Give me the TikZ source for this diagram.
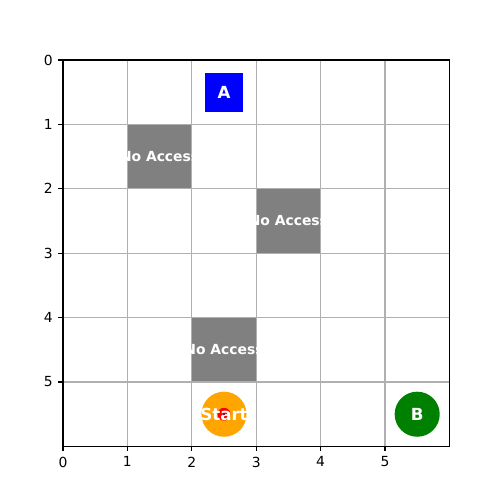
\documentclass[tikz,border=0pt]{standalone}
\usepackage{fontspec}
\setmainfont{DejaVu Sans}
\usetikzlibrary{positioning}
\definecolor{rejilla}{HTML}{B0B0B0}
\definecolor{muro}{HTML}{808080}
\definecolor{naranja}{HTML}{FFA500}
\definecolor{verde}{HTML}{008000}
\definecolor{azulm}{HTML}{0000FF}
\definecolor{rojo}{HTML}{FF0000}
\tikzset{
 bloqueo/.style={fill=muro,draw=none},
 rotulo/.style={text=white,inner sep=0pt,font=\fontsize{10}{12}\selectfont\bfseries},
 meta/.style={text=white,inner sep=0pt,font=\fontsize{12}{14}\selectfont\bfseries},
 marca/.style={inner sep=0pt,font=\fontsize{10}{12}\selectfont},
 eje/.style={black,line width=0.8pt},
}

\begin{document}
\begin{tikzpicture}[x=1.63cm,y=-1.63cm]
\useasboundingbox (-0.978,-0.932) rectangle (6.786,6.832);
\fill[white] (-0.978,-0.932) rectangle (6.786,6.832);

% celdas sin acceso
\foreach \x/\y in {1/1,3/2,2/4} \fill[bloqueo] (\x,\y) rectangle ++(1,1);
% metas y salida
\fill[azulm] (2.2,0.2) rectangle (2.8,0.8);
\fill[naranja] (2.5,5.5) circle (0.35);
\fill[rojo] (2.5,5.5) circle (0.1);
\fill[verde] (5.5,5.5) circle (0.35);
% rejilla
\foreach \i in {1,...,5} \draw[rejilla,line width=0.8pt] (\i,0) -- (\i,6) (0,\i) -- (6,\i);

\node[rotulo] (na) at (1.5,1.5) {No Access};
\node[rotulo] (nb) at (3.5,2.5) {No Access};
\node[rotulo] (nc) at (2.5,4.5) {No Access};
\node[meta] (ma) at (2.5,0.5) {A};
\node[meta] (mb) at (5.5,5.5) {B};
\node[meta] (inicio) at (2.5,5.5) {Start};
\fill[black] (inicio.center) circle (0.015);

% ejes
\draw[eje] (0,0) rectangle (6,6);
\foreach \i in {0,...,5} {
 \draw[eje] (\i,6) -- ++(0,-3.5pt) node[marca,below=3.5pt] (tx\i) {\i};
 \draw[eje] (0,\i) -- ++(-3.5pt,0) node[marca,left=3.5pt] (ty\i) {\i};
}
\end{tikzpicture}
\end{document}
